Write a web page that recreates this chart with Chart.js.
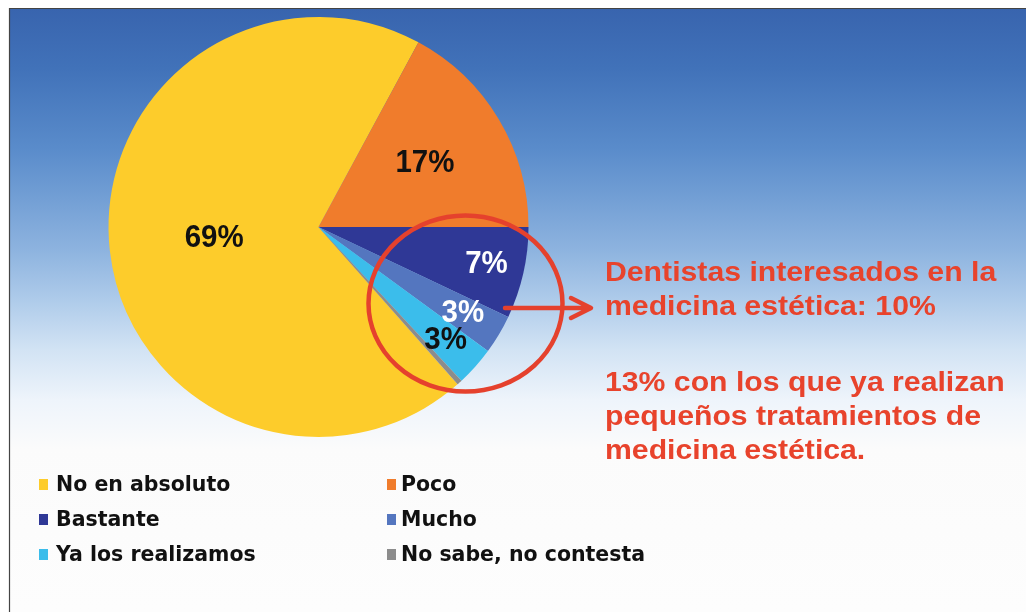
<!DOCTYPE html>
<html>
<head>
<meta charset="utf-8">
<script src="https://cdn.jsdelivr.net/npm/chart.js@4/dist/chart.umd.min.js"></script>
<style>
  body { margin: 0; background: #fff; }
  #wrap { width: 1026px; height: 612px; }
</style>
</head>
<body>
<div id="wrap"><canvas id="pie-chart" width="1026" height="612"></canvas></div>
<script>
const categories = ["No en absoluto", "Poco", "Bastante", "Mucho", "Ya los realizamos", "No sabe, no contesta"];
const values = [69, 17, 7, 3, 3, 0.4];
const sliceColors = ["#fdcc2b", "#f07c2c", "#2f3896", "#5476bf", "#3bbdeb", "#8c8c8c"];
const labelColors = ["#111", "#111", "#fff", "#fff", "#111", null];
const labelRadius = [0.5, 0.59, 0.82, 0.8, 0.81, 0];
const noteLines = [
  "Dentistas interesados en la",
  "medicina estética: 10%",
  "",
  "13% con los que ya realizan",
  "pequeños tratamientos de",
  "medicina estética."
];

// the pie starts so that "Poco" ends at 3 o'clock
const total = values.reduce((a, b) => a + b, 0);
const rotation = 90 - (values[0] + values[1]) / total * 360;

function scaledText(ctx, text, x, y, sx) {
  ctx.save();
  ctx.translate(x, y);
  ctx.scale(sx, 1);
  ctx.fillText(text, 0, 0);
  ctx.restore();
}

const backdrop = {
  id: "backdrop",
  beforeDraw(chart) {
    const ctx = chart.ctx;
    ctx.save();
    ctx.fillStyle = "#fff";
    ctx.fillRect(0, 0, chart.width, chart.height);
    const g = ctx.createLinearGradient(0, 8, 0, 612);
    g.addColorStop(0, "#3864ae");
    g.addColorStop(0.1, "#4172b9");
    g.addColorStop(0.235, "#5a8ccb");
    g.addColorStop(0.4, "#8db3df");
    g.addColorStop(0.483, "#aecbea");
    g.addColorStop(0.566, "#d2e3f4");
    g.addColorStop(0.649, "#eef4fb");
    g.addColorStop(0.73, "#fbfbfb");
    g.addColorStop(1, "#fdfdfd");
    ctx.fillStyle = g;
    ctx.fillRect(9, 8, chart.width - 9, chart.height - 8);
    ctx.strokeStyle = "#444";
    ctx.lineWidth = 1.2;
    ctx.beginPath();
    ctx.moveTo(chart.width, 8.5);
    ctx.lineTo(9.5, 8.5);
    ctx.lineTo(9.5, chart.height);
    ctx.stroke();
    ctx.restore();
  }
};

const extras = {
  id: "extras",
  afterDatasetsDraw(chart) {
    const ctx = chart.ctx;
    const arcs = chart.getDatasetMeta(0).data;
    ctx.save();

    // percentage labels
    ctx.font = "bold 31px 'Liberation Sans', Arial, sans-serif";
    ctx.textAlign = "center";
    ctx.textBaseline = "middle";
    arcs.forEach((arc, i) => {
      if (!labelColors[i]) return;
      const p = arc.getProps(["x", "y", "startAngle", "endAngle", "outerRadius"], true);
      const mid = (p.startAngle + p.endAngle) / 2;
      const r = p.outerRadius * labelRadius[i];
      ctx.fillStyle = labelColors[i];
      scaledText(ctx, Math.round(values[i]) + "%", p.x + Math.cos(mid) * r, p.y + Math.sin(mid) * r, 0.95);
    });

    // red ring and arrow
    ctx.strokeStyle = "#e5412d";
    ctx.lineWidth = 4.5;
    ctx.beginPath();
    ctx.ellipse(465.5, 303.5, 97, 88, 0, 0, Math.PI * 2);
    ctx.stroke();
    ctx.lineCap = "round";
    ctx.lineJoin = "round";
    ctx.beginPath();
    ctx.moveTo(505, 308);
    ctx.lineTo(590, 308);
    ctx.moveTo(571, 298);
    ctx.lineTo(591, 308);
    ctx.lineTo(571, 318);
    ctx.stroke();

    // note text
    ctx.fillStyle = "#e8432c";
    ctx.font = "bold 28.5px 'Liberation Sans', Arial, sans-serif";
    ctx.textAlign = "left";
    ctx.textBaseline = "alphabetic";
    const baselines = [281, 315, 0, 391, 425, 459];
    noteLines.forEach((t, i) => { if (t) scaledText(ctx, t, 605, baselines[i], 1.06); });

    // legend, two columns
    ctx.font = "bold 20.5px 'DejaVu Sans', Verdana, sans-serif";
    categories.forEach((c, i) => {
      const col = i % 2, row = Math.floor(i / 2);
      const base = 491 + row * 35;
      ctx.fillStyle = sliceColors[i];
      ctx.fillRect(col ? 387 : 39, base - 12, 9, 11);
      ctx.fillStyle = "#111";
      ctx.fillText(c, col ? 401 : 56, base);
    });
    ctx.restore();
  }
};

const config_pie = {
  type: "pie",
  data: {
    labels: categories,
    datasets: [{
      data: values,
      backgroundColor: sliceColors,
      borderWidth: 0,
    }],
  },
  options: {
    responsive: false,
    animation: false,
    rotation: rotation,
    layout: { padding: { left: 108.5, top: 17, right: 497.5, bottom: 175 } },
    plugins: {
      legend: { display: false },
      tooltip: { enabled: false },
    },
  },
  plugins: [backdrop, extras],
};
var ctx_pie = document.getElementById("pie-chart").getContext("2d");
var myChart_pie = new Chart(ctx_pie, config_pie);
</script>
</body>
</html>
